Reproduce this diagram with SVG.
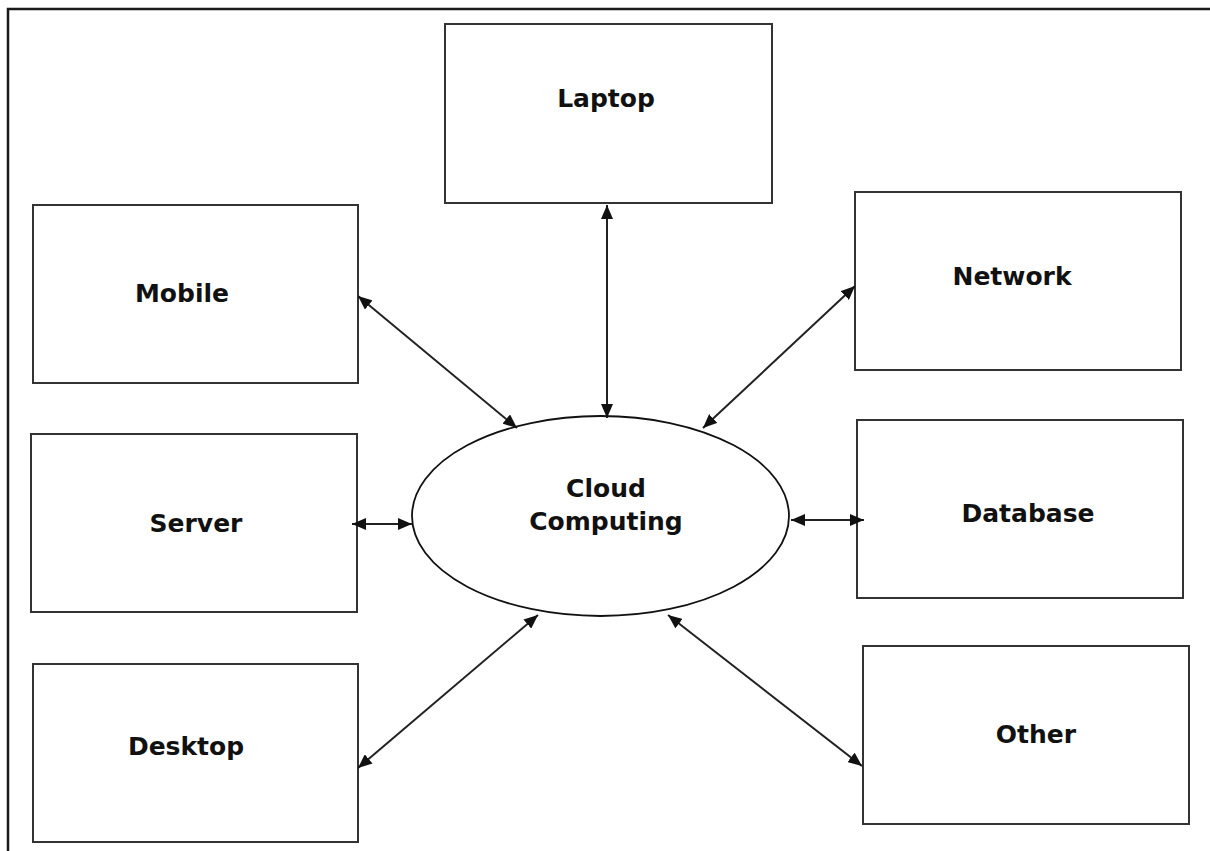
<svg xmlns="http://www.w3.org/2000/svg" width="1210" height="851" viewBox="0 0 1210 851">
  <defs>
    <style>
      .box { fill: #ffffff; stroke: #333333; stroke-width: 2; }
      .lbl { font-family: "DejaVu Sans", Verdana, sans-serif; font-weight: bold; font-size: 25px; fill: #111111; text-anchor: middle; }
      .conn { stroke: #222222; stroke-width: 2; fill: none; marker-start: url(#arr); marker-end: url(#arr); }
    </style>
    <marker id="arr" viewBox="0 0 14 12" refX="14" refY="6" markerWidth="14" markerHeight="12" markerUnits="userSpaceOnUse" orient="auto-start-reverse">
      <path d="M0,0 L14,6 L0,12 Z" fill="#111111"/>
    </marker>
  </defs>
  <rect width="1210" height="851" fill="#ffffff"/>
  <path d="M8,851 L8,9 L1210,9" fill="none" stroke="#1a1a1a" stroke-width="2.5"/>

  <g id="laptop"><rect class="box" x="445" y="24" width="327" height="179"/><text class="lbl" x="606" y="107">Laptop</text></g>
  <g id="mobile"><rect class="box" x="33" y="205" width="325" height="178"/><text class="lbl" x="182" y="302">Mobile</text></g>
  <g id="network"><rect class="box" x="855" y="192" width="326" height="178"/><text class="lbl" x="1012" y="285">Network</text></g>
  <g id="server"><rect class="box" x="31" y="434" width="326" height="178"/><text class="lbl" x="196" y="532">Server</text></g>
  <g id="database"><rect class="box" x="857" y="420" width="326" height="178"/><text class="lbl" x="1028" y="522">Database</text></g>
  <g id="desktop"><rect class="box" x="33" y="664" width="325" height="178"/><text class="lbl" x="186" y="755">Desktop</text></g>
  <g id="other"><rect class="box" x="863" y="646" width="326" height="178"/><text class="lbl" x="1036" y="743">Other</text></g>
  <g id="cloud"><ellipse cx="600.5" cy="516" rx="188.5" ry="100" fill="#ffffff" stroke="#111111" stroke-width="1.8"/><text class="lbl" x="606" y="497">Cloud</text><text class="lbl" x="606" y="530">Computing</text></g>

  <g id="connectors">
    <line class="conn" x1="358" y1="296" x2="517" y2="428"/>
    <line class="conn" x1="607" y1="205" x2="607" y2="418"/>
    <line class="conn" x1="855" y1="286" x2="703" y2="428"/>
    <line class="conn" x1="352" y1="524" x2="412" y2="524"/>
    <line class="conn" x1="791" y1="520" x2="864" y2="520"/>
    <line class="conn" x1="358" y1="768" x2="538" y2="615"/>
    <line class="conn" x1="668" y1="615" x2="862" y2="766"/>
  </g>
</svg>
